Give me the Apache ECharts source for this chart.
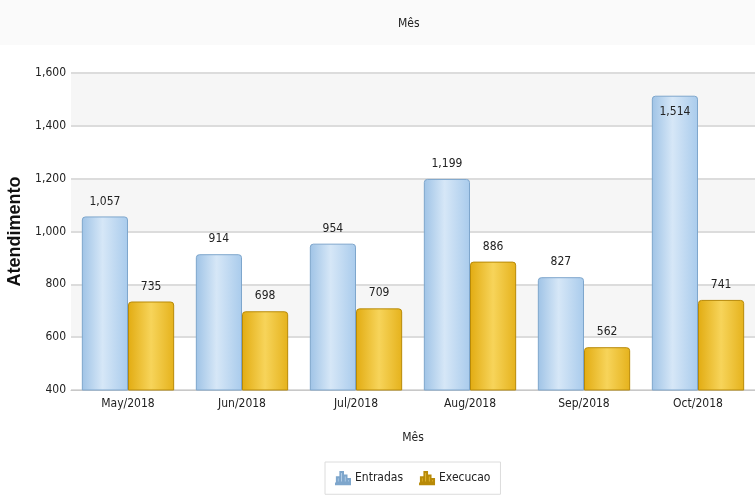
<!DOCTYPE html>
<html>
<head>
<meta charset="utf-8">
<script src="https://cdn.jsdelivr.net/npm/echarts@6/dist/echarts.min.js"></script>
<style>
  html, body { margin: 0; padding: 0; background: #fff; }
  #chart { width: 755px; height: 501px; }
</style>
</head>
<body>
<div id="chart"></div>
<script>
var meses = ['May/2018', 'Jun/2018', 'Jul/2018', 'Aug/2018', 'Sep/2018', 'Oct/2018'];
var entradas = [1057, 914, 954, 1199, 827, 1514];
var execucao = [735, 698, 709, 886, 562, 741];

var FONT = "'DejaVu Sans Condensed', 'Liberation Sans', sans-serif";
var fmt = function (v) { return String(v).replace(/\B(?=(\d{3})+(?!\d))/g, ','); };

// small bar-chart icon for the legend
var iconBars = 'path://M0,14L16,14L16,15L0,15Z M1,13L4,13L4,7L1,7Z M5,13L8,13L8,1L5,1Z M9,13L12,13L12,5L9,5Z M13,13L16,13L16,9L13,9Z';

function gradBlue() {
  return new echarts.graphic.LinearGradient(0, 0, 1, 0, [
    { offset: 0, color: '#9fc3e6' },
    { offset: 0.45, color: '#d6e7f7' },
    { offset: 1, color: '#a9cbec' }
  ]);
}
function gradGold() {
  return new echarts.graphic.LinearGradient(0, 0, 1, 0, [
    { offset: 0, color: '#e2ac12' },
    { offset: 0.5, color: '#f7d45a' },
    { offset: 1, color: '#e5b21c' }
  ]);
}

var myChart = echarts.init(document.getElementById('chart'));
var option = {
  animation: false,
  backgroundColor: '#fff',
  graphic: [{
    type: 'rect', left: 0, top: 0, z: -10,
    shape: { width: 755, height: 45 },
    style: { fill: '#fafafa' }
  }],
  title: {
    text: 'Mês',
    left: 393,
    top: 13,
    textStyle: { fontFamily: FONT, fontSize: 12, fontWeight: 'normal', color: '#222' }
  },
  legend: {
    top: 462,
    left: 325,
    data: ['Entradas', 'Execucao'],
    icon: iconBars,
    itemWidth: 14,
    itemHeight: 14,
    itemGap: 16,
    borderColor: '#dcdcdc',
    borderWidth: 1,
    padding: [9, 10],
    textStyle: { fontFamily: FONT, fontSize: 12, color: '#222' }
  },
  grid: { left: 71, right: 0, top: 73, bottom: 111, outerBoundsMode: 'none' },
  xAxis: {
    type: 'category',
    data: meses,
    name: 'Mês',
    nameLocation: 'middle',
    nameGap: 42,
    nameTextStyle: { fontFamily: FONT, fontSize: 12, color: '#222' },
    axisLine: { lineStyle: { color: '#c8c8c8' } },
    axisTick: { show: false },
    axisLabel: { fontFamily: FONT, fontSize: 12, color: '#222', margin: 8 }
  },
  yAxis: {
    type: 'value',
    min: 400,
    max: 1600,
    interval: 200,
    name: 'Atendimento',
    nameLocation: 'middle',
    nameGap: 36,
    nameTextStyle: { fontFamily: 'Liberation Sans', fontSize: 18, fontWeight: 'bold', color: '#111' },
    axisLine: { show: false },
    axisTick: { show: false },
    axisLabel: { fontFamily: FONT, fontSize: 12, color: '#222', formatter: fmt, margin: 5 },
    splitLine: { lineStyle: { color: '#dcdcdc', width: 2 } },
    splitArea: { show: true, areaStyle: { color: ['#ffffff', '#f6f6f6'] } }
  },
  series: [
    {
      name: 'Entradas',
      type: 'bar',
      barGap: '0%',
      barCategoryGap: '19%',
      itemStyle: { color: gradBlue(), borderColor: '#7ea6cc', borderWidth: 1, borderRadius: [3, 3, 0, 0] },
      label: {
        show: true, position: 'top', distance: 9,
        fontFamily: FONT, fontSize: 12, color: '#222',
        formatter: function (p) { return fmt(p.value); }
      },
      data: entradas.map(function (v, i) {
        return i === entradas.length - 1 ? { value: v, label: { position: 'insideTop', distance: 10 } } : v;
      })
    },
    {
      name: 'Execucao',
      type: 'bar',
      itemStyle: { color: gradGold(), borderColor: '#b88a08', borderWidth: 1, borderRadius: [3, 3, 0, 0] },
      label: {
        show: true, position: 'top', distance: 9,
        fontFamily: FONT, fontSize: 12, color: '#222',
        formatter: function (p) { return fmt(p.value); }
      },
      data: execucao
    }
  ]
};
myChart.setOption(option);
</script>
</body>
</html>
